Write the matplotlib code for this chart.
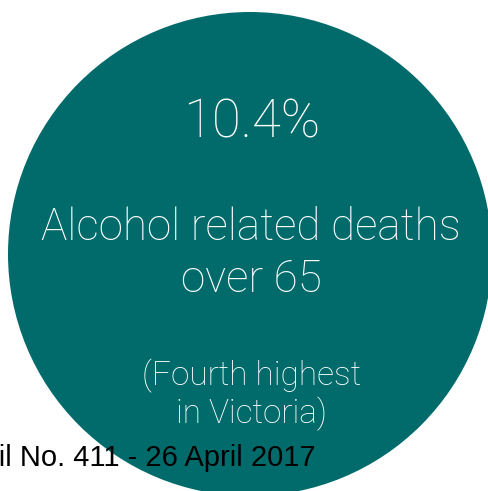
import matplotlib
matplotlib.use("Agg")
import matplotlib.pyplot as plt
from matplotlib.patches import Circle

# values shown on the chart
stat_value = 10.4
stat_lines = ["Alcohol related deaths", "over 65"]
note_lines = ["(Fourth highest", "in Victoria)"]
footer = "ril No. 411 - 26 April 2017"

teal = "#016b6b"

fig = plt.figure(figsize=(4.88, 4.91), dpi=100)
ax = fig.add_axes([0, 0, 1, 1])
ax.set_xlim(0, 488)
ax.set_ylim(491, 0)
ax.axis("off")

ax.add_patch(Circle((250, 254), 242, color=teal, lw=0))

font = dict(family=["Roboto", "DejaVu Sans"], fontweight="light", color="white",
            ha="center", va="baseline")

ax.text(252, 137, f"{stat_value}%", fontsize=38, **font)
for y, line in zip([240, 292], stat_lines):
    ax.text(251, y, line, fontsize=31.7, **font)
for y, line in zip([385, 423], note_lines):
    ax.text(252, y, line, fontsize=24, **font)

ax.text(316, 466, footer, fontsize=21, family=["Liberation Sans", "DejaVu Sans"],
        color="black", ha="right", va="baseline")

fig.savefig("out.png", dpi=100)
